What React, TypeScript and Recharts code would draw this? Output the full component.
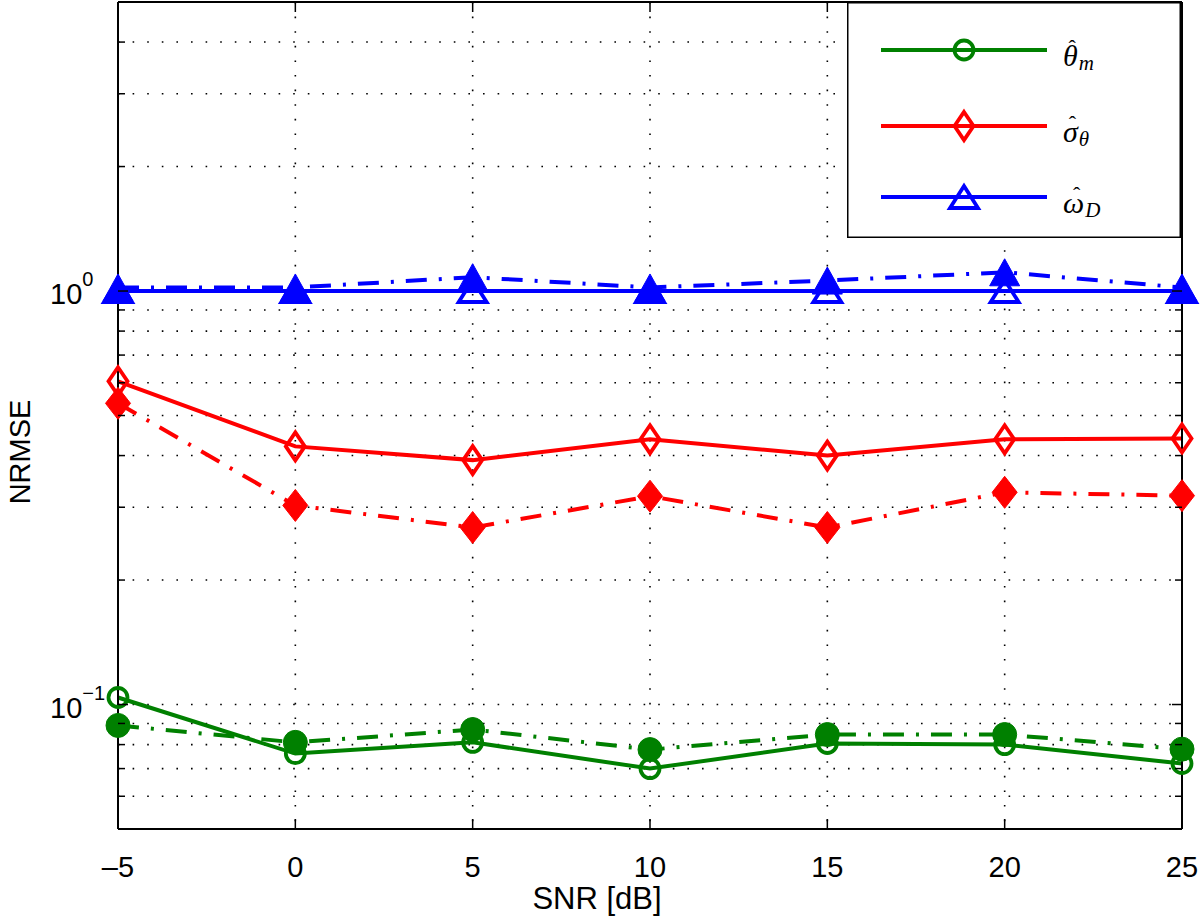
import React from 'react';
import { LineChart, Line, XAxis, YAxis, CartesianGrid, Legend } from 'recharts';

// ---------- data ----------
const snr = [-5, 0, 5, 10, 15, 20, 25];
const thetaSolid = [0.104, 0.0761, 0.081, 0.070, 0.0805, 0.080, 0.072];
const thetaDash = [0.089, 0.081, 0.087, 0.0778, 0.0846, 0.0846, 0.078];
const sigmaSolid = [0.605, 0.421, 0.39, 0.438, 0.40, 0.438, 0.44];
const sigmaDash = [0.535, 0.303, 0.268, 0.319, 0.268, 0.326, 0.32];
const omegaSolid = [1.0, 1.0, 1.0, 1.0, 1.0, 1.0, 1.0];
const omegaDash = [1.02, 1.02, 1.08, 1.02, 1.06, 1.11, 1.02];

const xTicks = [-5, 0, 5, 10, 15, 20, 25];
const yTicks = [0.05, 0.06, 0.07, 0.08, 0.09, 0.1, 0.2, 0.3, 0.4, 0.5, 0.6, 0.7, 0.8, 0.9, 1, 2, 3, 4, 5];
const xLabel = 'SNR [dB]';
const yLabel = 'NRMSE';
const legendLabels: Record<string, { base: string; sub: string; w: number }> = {
  thetaSolid: { base: 'θ', sub: 'm', w: 15 },
  sigmaSolid: { base: 'σ', sub: 'θ', w: 15 },
  omegaSolid: { base: 'ω', sub: 'D', w: 19 },
};
const legendKeys = ['thetaSolid', 'sigmaSolid', 'omegaSolid'];

const data = snr.map((s, i) => ({
  snr: s,
  thetaSolid: thetaSolid[i],
  thetaDash: thetaDash[i],
  sigmaSolid: sigmaSolid[i],
  sigmaDash: sigmaDash[i],
  omegaSolid: omegaSolid[i],
  omegaDash: omegaDash[i],
}));

// ---------- styles ----------
const GREEN = '#008000';
const RED = '#ff0000';
const BLUE = '#0000ff';
const colorFor: Record<string, string> = { thetaSolid: GREEN, sigmaSolid: RED, omegaSolid: BLUE };
const FONT = '"Liberation Sans", Arial, Helvetica, sans-serif';
const MATH = '"Liberation Serif", "DejaVu Serif", serif';
const DASHDOT = '21 12 3 12';
const LW = 4;
const TICK_MAJOR = 10;
const TICK_MINOR = 7;

type MarkerKind = 'circle' | 'diamond' | 'triangle';

function Marker({ cx, cy, kind, filled, color }: { cx: number; cy: number; kind: MarkerKind; filled: boolean; color: string }) {
  if (cx == null || cy == null || isNaN(cx) || isNaN(cy)) return null;
  const fill = filled ? color : 'none';
  const sw = filled ? 1 : 3.8;
  if (kind === 'circle') {
    const r = filled ? 12 : 9.5;
    return <circle cx={cx} cy={cy} r={r} fill={fill} stroke={color} strokeWidth={sw} />;
  }
  if (kind === 'diamond') {
    const hw = filled ? 12.5 : 9.5;
    const hh = filled ? 16 : 14;
    return (
      <path
        d={`M${cx},${cy - hh} L${cx + hw},${cy} L${cx},${cy + hh} L${cx - hw},${cy} Z`}
        fill={fill}
        stroke={color}
        strokeWidth={sw}
        strokeLinejoin="miter"
      />
    );
  }
  const hw = filled ? 15 : 14;
  const hh = filled ? 13.5 : 11;
  return (
    <path
      d={`M${cx},${cy - hh} L${cx + hw},${cy + hh} L${cx - hw},${cy + hh} Z`}
      fill={fill}
      stroke={color}
      strokeWidth={sw}
      strokeLinejoin="miter"
    />
  );
}

const makeDot = (kind: MarkerKind, filled: boolean, color: string) => (props: any) => (
  <Marker key={`${kind}-${filled}-${props.index}`} cx={props.cx} cy={props.cy} kind={kind} filled={filled} color={color} />
);

const isMajor = (v: number) => Math.abs(Math.log10(v) - Math.round(Math.log10(v))) < 1e-9;

function BottomTick(props: any) {
  const { x, y, payload } = props;
  const v = payload.value as number;
  const label = v < 0 ? `\u2013${Math.abs(v)}` : String(v);
  return (
    <g>
      <line x1={x} x2={x} y1={y} y2={y - TICK_MAJOR} stroke="#000" strokeWidth={1.5} />
      <text x={x} y={y + 48} textAnchor="middle" fontFamily={FONT} fontSize={29} fill="#000">
        {label}
      </text>
    </g>
  );
}

function TopTick(props: any) {
  const { x, y } = props;
  return <line x1={x} x2={x} y1={y} y2={y + TICK_MAJOR} stroke="#000" strokeWidth={1.5} />;
}

function LeftTick(props: any) {
  const { x, y, payload } = props;
  const v = payload.value as number;
  const major = isMajor(v);
  const exp = Math.round(Math.log10(v));
  return (
    <g>
      <line x1={x} x2={x + (major ? TICK_MAJOR : TICK_MINOR)} y1={y} y2={y} stroke="#000" strokeWidth={1.5} />
      {major && (
        <text x={x - 68} y={y + 13} fontFamily={FONT} fontSize={29} fill="#000">
          10
          <tspan dy={-18} fontSize={20}>
            {exp < 0 ? `\u2212${Math.abs(exp)}` : String(exp)}
          </tspan>
        </text>
      )}
    </g>
  );
}

function RightTick(props: any) {
  const { x, y, payload } = props;
  const major = isMajor(payload.value as number);
  return <line x1={x} x2={x - (major ? TICK_MAJOR : TICK_MINOR)} y1={y} y2={y} stroke="#000" strokeWidth={1.5} />;
}

const markerFor: Record<string, MarkerKind> = {
  thetaSolid: 'circle',
  sigmaSolid: 'diamond',
  omegaSolid: 'triangle',
};

function LegendBox(props: any) {
  const payload = (props.payload || []) as any[];
  const byKey: Record<string, string> = {};
  payload.forEach((e) => {
    const k = e?.dataKey ?? e?.payload?.dataKey;
    if (typeof k === 'string' && e?.color) byKey[k] = e.color;
  });
  const rows = [48, 124, 195];
  const HAT_W = 7.3;
  return (
    <svg width={334} height={236} style={{ display: 'block' }}>
      <rect x={0.75} y={0.75} width={332.5} height={234.5} fill="#fff" stroke="#000" strokeWidth={1.5} />
      {legendKeys.map((key, i) => {
        const y = rows[i];
        const lab = legendLabels[key];
        const color = byKey[key] || colorFor[key];
        const hatDx = -(lab.w / 2 + HAT_W / 2) + 2;
        const subDx = lab.w - (lab.w + hatDx + HAT_W) + 1;
        return (
          <g key={key}>
            <line x1={34} x2={200} y1={y} y2={y} stroke={color} strokeWidth={LW} />
            <Marker cx={117} cy={y} kind={markerFor[key]} filled={false} color={color} />
            <text x={216} y={y + 16} fontFamily={MATH} fontStyle="italic" fontSize={30} fill="#000">
              {lab.base}
              <tspan dx={hatDx} dy={-11} fontStyle="normal" fontSize={22}>
                {'\u02C6'}
              </tspan>
              <tspan dx={subDx} dy={15} fontSize={21}>
                {lab.sub}
              </tspan>
            </text>
          </g>
        );
      })}
    </svg>
  );
}

export default function App() {
  return (
    <div style={{ position: 'absolute', left: 0, top: 0, width: 1200, height: 916, background: '#fff' }}>
      <LineChart width={1200} height={916} data={data} margin={{ top: 0, right: 0, bottom: 0, left: 0 }}>
        <CartesianGrid stroke="#000" strokeWidth={1.6} strokeDasharray="1.6 13" xAxisId="x" yAxisId="y" />
        <XAxis
          xAxisId="x"
          dataKey="snr"
          type="number"
          domain={[-5, 25]}
          ticks={xTicks}
          height={87}
          tickSize={0}
          tickMargin={0}
          tickLine={false}
          axisLine={{ stroke: '#000', strokeWidth: 2 }}
          tick={<BottomTick />}
          interval={0}
          label={{
            value: xLabel,
            content: () => (
              <text x={597} y={909} textAnchor="middle" fontFamily={FONT} fontSize={31} fill="#000">
                {xLabel}
              </text>
            ),
          }}
        />
        <XAxis
          xAxisId="top"
          orientation="top"
          type="number"
          dataKey="snr"
          domain={[-5, 25]}
          ticks={xTicks}
          height={2}
          tickSize={0}
          tickMargin={0}
          tickLine={false}
          axisLine={{ stroke: '#000', strokeWidth: 2 }}
          tick={<TopTick />}
          interval={0}
        />
        <YAxis
          yAxisId="y"
          scale="log"
          type="number"
          domain={[0.05, 5]}
          ticks={yTicks}
          width={118}
          tickSize={0}
          tickMargin={0}
          tickLine={false}
          axisLine={{ stroke: '#000', strokeWidth: 2 }}
          tick={<LeftTick />}
          interval={0}
          allowDataOverflow
          label={{
            value: yLabel,
            content: () => (
              <text
                x={30}
                y={452}
                transform="rotate(-90 30 452)"
                textAnchor="middle"
                fontFamily={FONT}
                fontSize={29}
                fill="#000"
              >
                {yLabel}
              </text>
            ),
          }}
        />
        <YAxis
          yAxisId="right"
          orientation="right"
          scale="log"
          type="number"
          domain={[0.05, 5]}
          ticks={yTicks}
          width={18}
          tickSize={0}
          tickMargin={0}
          tickLine={false}
          axisLine={{ stroke: '#000', strokeWidth: 2 }}
          tick={<RightTick />}
          interval={0}
          allowDataOverflow
        />
        <Legend
          layout="horizontal"
          verticalAlign="middle"
          align="center"
          content={<LegendBox />}
          wrapperStyle={{ position: 'absolute', left: 847, top: 2, width: 334, height: 236, margin: 0, padding: 0 }}
        />
        <Line xAxisId="x" yAxisId="y" name="theta_m" dataKey="thetaSolid" stroke={GREEN} strokeWidth={LW} dot={makeDot('circle', false, GREEN)} activeDot={false} isAnimationActive={false} />
        <Line xAxisId="x" yAxisId="y" name="sigma_theta" dataKey="sigmaSolid" stroke={RED} strokeWidth={LW} dot={makeDot('diamond', false, RED)} activeDot={false} isAnimationActive={false} />
        <Line xAxisId="x" yAxisId="y" name="omega_D" dataKey="omegaSolid" stroke={BLUE} strokeWidth={LW} dot={makeDot('triangle', false, BLUE)} activeDot={false} isAnimationActive={false} />
        <Line xAxisId="x" yAxisId="y" dataKey="thetaDash" legendType="none" stroke={GREEN} strokeWidth={LW} strokeDasharray={DASHDOT} dot={makeDot('circle', true, GREEN)} activeDot={false} isAnimationActive={false} />
        <Line xAxisId="x" yAxisId="y" dataKey="sigmaDash" legendType="none" stroke={RED} strokeWidth={LW} strokeDasharray={DASHDOT} dot={makeDot('diamond', true, RED)} activeDot={false} isAnimationActive={false} />
        <Line xAxisId="x" yAxisId="y" dataKey="omegaDash" legendType="none" stroke={BLUE} strokeWidth={LW} strokeDasharray={DASHDOT} dot={makeDot('triangle', true, BLUE)} activeDot={false} isAnimationActive={false} />
      </LineChart>
    </div>
  );
}
